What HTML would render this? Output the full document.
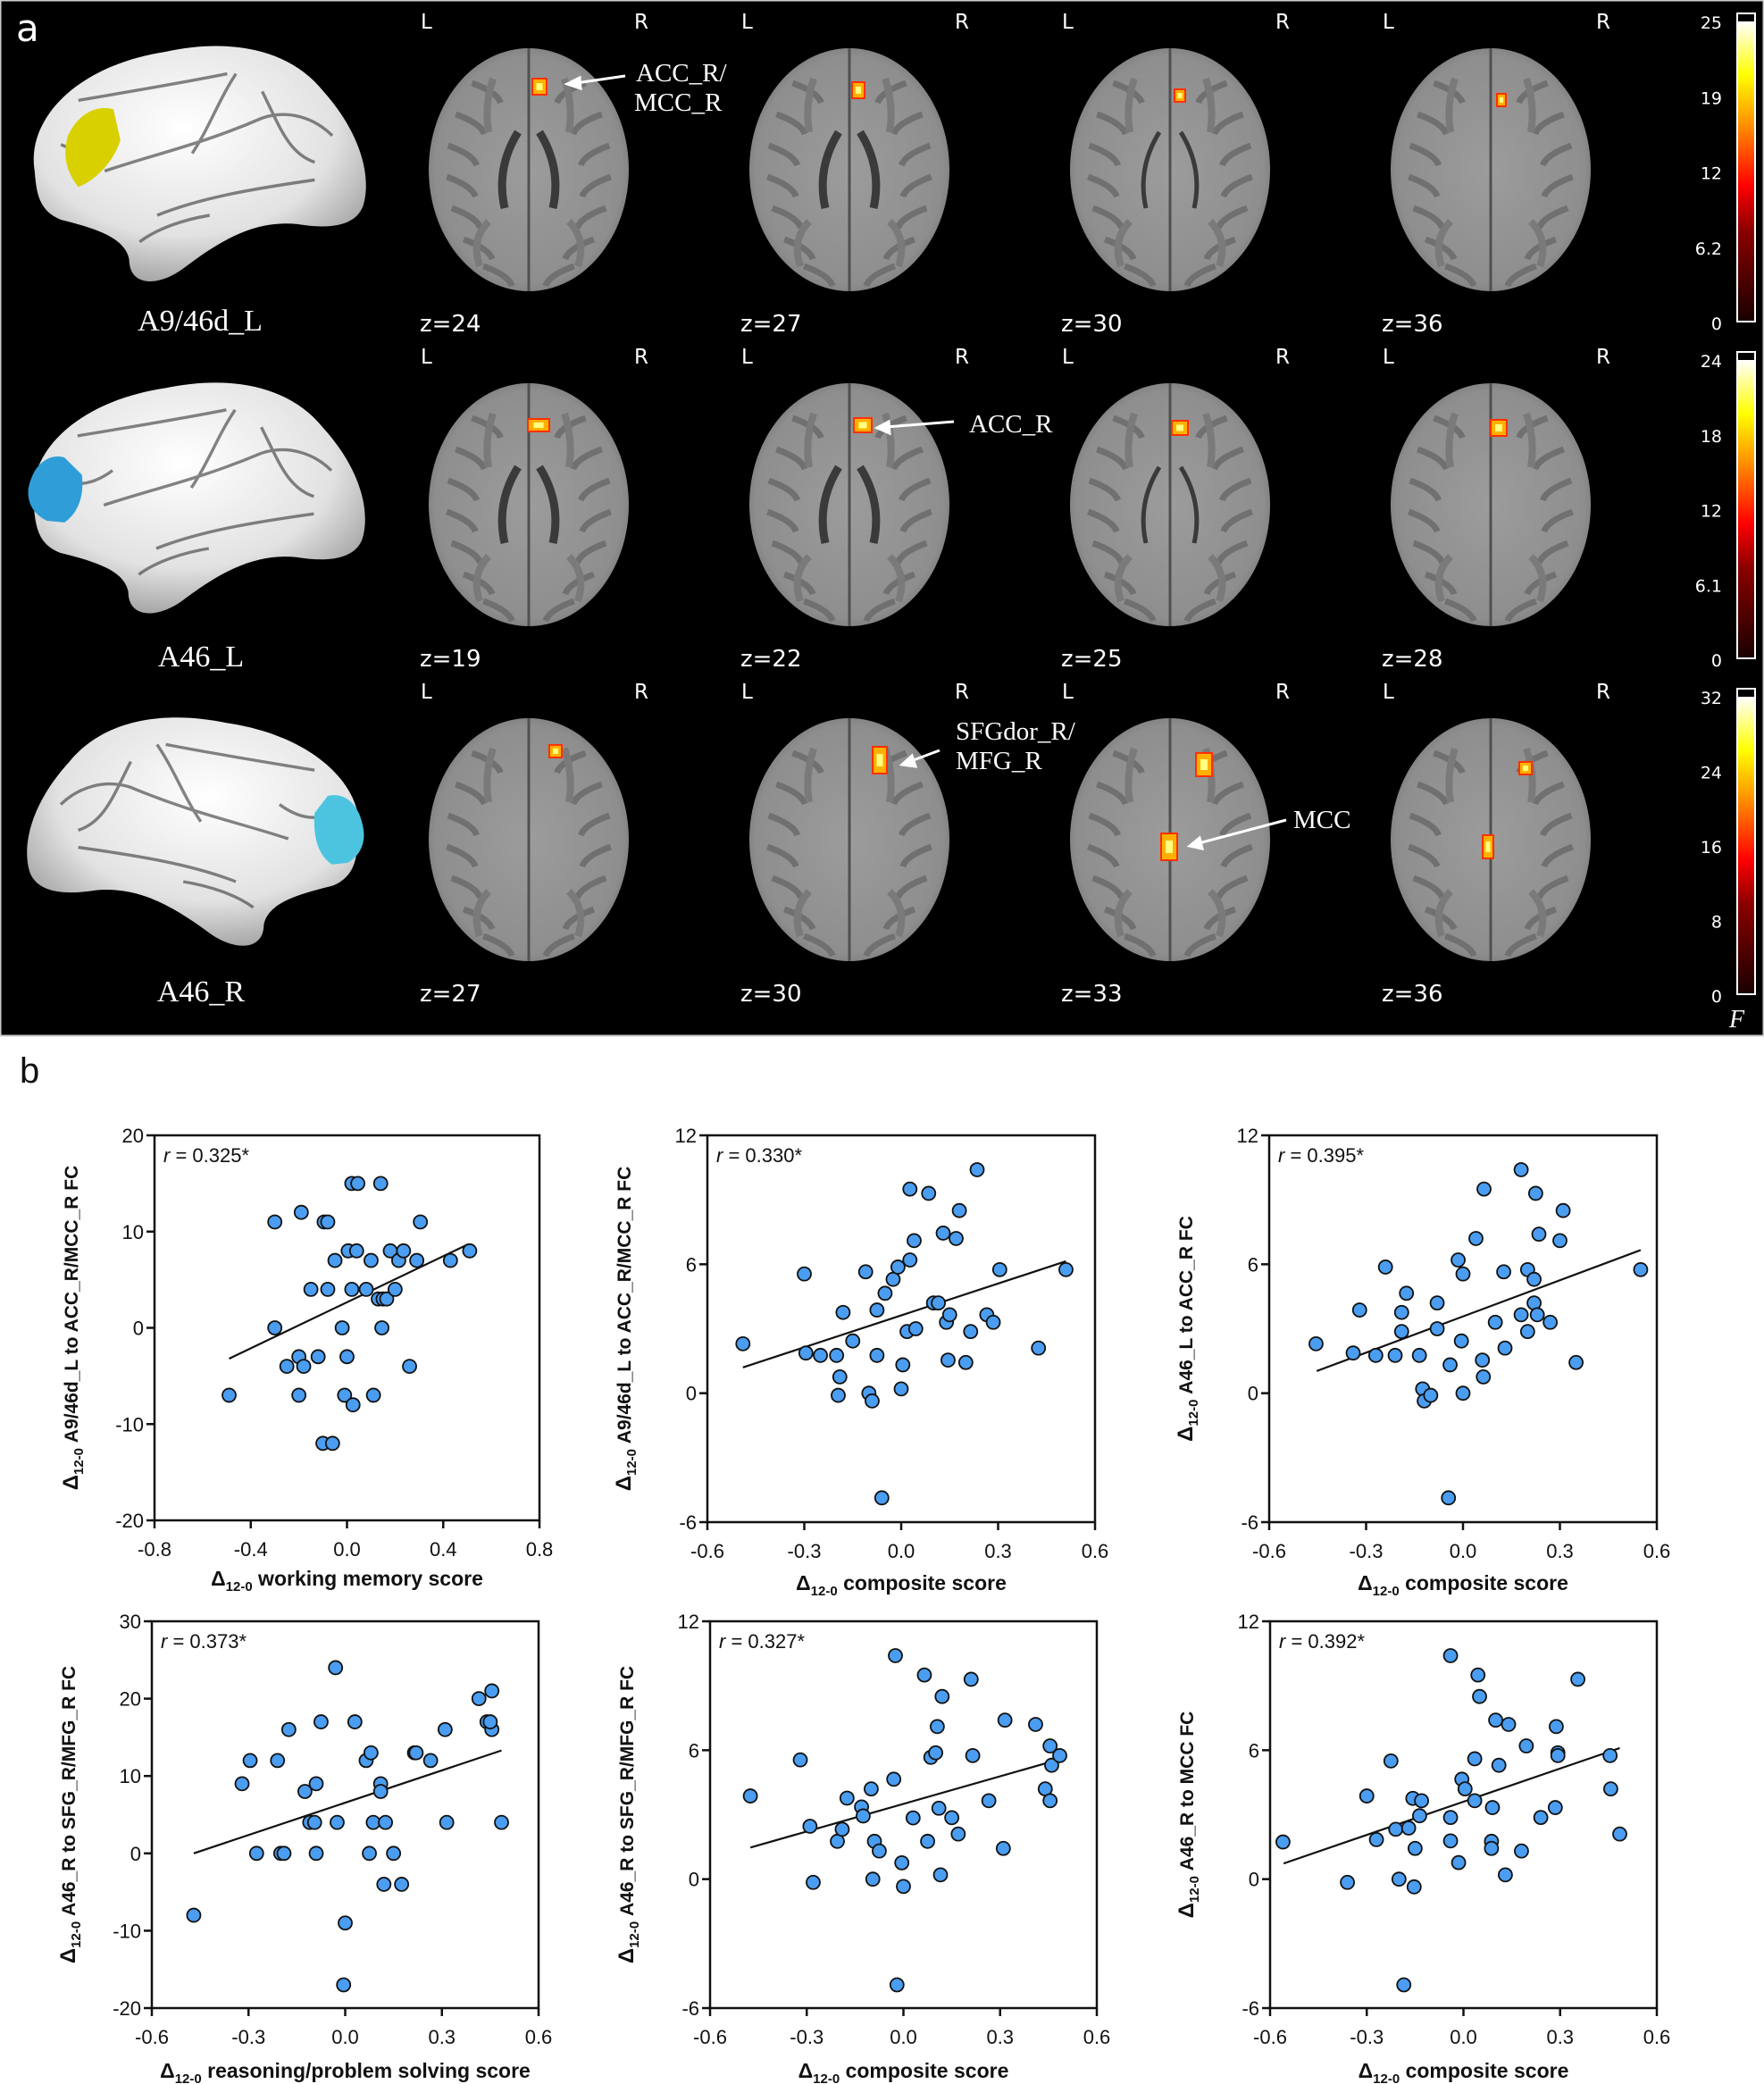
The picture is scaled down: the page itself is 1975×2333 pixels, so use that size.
<!DOCTYPE html>
<html><head><meta charset="utf-8">
<style>
html,body{margin:0;padding:0;background:#fff;}
svg{display:block;}
.w{fill:#fff;font-family:"DejaVu Sans","Liberation Sans",sans-serif;}
.s{fill:#fff;font-family:"Liberation Serif",serif;}
.t{font-family:"Liberation Sans",sans-serif;font-size:22px;fill:#111;}
.b{font-family:"Liberation Sans",sans-serif;font-size:21px;font-weight:bold;fill:#111;}
.bx{font-family:"Liberation Sans",sans-serif;font-size:23px;font-weight:bold;fill:#111;}
</style></head>
<body>
<svg id="root" width="1975" height="2333" viewBox="0 0 1975 2333" xmlns="http://www.w3.org/2000/svg">
<defs>
<radialGradient id="bg" cx="0.45" cy="0.35" r="0.7">
<stop offset="0" stop-color="#ffffff"/><stop offset="0.65" stop-color="#e2e2e2"/><stop offset="1" stop-color="#9a9a9a"/>
</radialGradient>
<linearGradient id="cb" x1="0" y1="1" x2="0" y2="0">
<stop offset="0" stop-color="#1a0000"/><stop offset="0.3" stop-color="#8a0000"/><stop offset="0.45" stop-color="#ff0000"/><stop offset="0.65" stop-color="#ff8c00"/><stop offset="0.82" stop-color="#ffff00"/><stop offset="1" stop-color="#ffffff"/>
</linearGradient>
<radialGradient id="ax" cx="0.5" cy="0.5" r="0.55">
<stop offset="0" stop-color="#9c9c9c"/><stop offset="0.85" stop-color="#8e8e8e"/><stop offset="1" stop-color="#767676"/>
</radialGradient>
<path id="lb" d="M 10 150 C 0 90, 60 30, 160 15 C 230 0, 300 10, 340 60 C 385 110, 395 160, 385 190 C 375 215, 340 215, 310 210 C 260 205, 220 230, 180 260 C 150 282, 118 280, 118 250 C 113 225, 80 215, 40 205 C 15 195, 12 175, 10 150 Z"/>
<g id="sulci" fill="none" stroke="#444" stroke-width="3.5" opacity="0.65">
<path d="M 60 70 C 120 60, 180 50, 230 40"/>
<path d="M 90 150 C 150 130, 200 120, 270 90 C 300 80, 330 90, 350 110"/>
<path d="M 190 130 C 210 100, 220 70, 240 40"/>
<path d="M 150 200 C 200 180, 260 170, 330 160"/>
<path d="M 130 230 C 150 215, 180 205, 210 200"/>
<path d="M 270 60 C 290 100, 300 130, 330 140"/>
<path d="M 40 120 C 60 130, 80 125, 100 110"/>
</g>
</defs>
<rect x="0" y="0" width="1975" height="1160" fill="#000"/>
<rect x="0.5" y="0.5" width="1974" height="1159" fill="none" stroke="#ccc" stroke-width="2"/>
<text x="18" y="46" class="w" font-size="42">a</text>

<g transform="translate(29,43) scale(0.98,0.99)"><use href="#lb" fill="url(#bg)"/><use href="#sulci"/>
<path d="M 48 110 C 60 85, 80 75, 100 80 L 108 115 C 100 140, 80 160, 60 168 C 45 150, 42 130, 48 110 Z" fill="#d8d000"/></g>
<g transform="translate(28,420) scale(0.98,0.97)"><use href="#lb" fill="url(#bg)"/><use href="#sulci"/>
<path d="M 4 130 C 10 100, 30 90, 45 95 L 65 115 C 68 140, 60 160, 45 170 L 25 168 C 8 160, 2 145, 4 130 Z" fill="#2f9ed8"/></g>
<g transform="translate(411,795) scale(-0.98,0.96)"><use href="#lb" fill="url(#bg)"/><use href="#sulci"/>
<path d="M 4 140 C 8 110, 25 95, 45 100 L 60 120 C 62 150, 55 170, 40 180 L 22 178 C 8 170, 2 155, 4 140 Z" fill="#4cc4e0"/></g>
<text x="224" y="370" class="s" font-size="34" text-anchor="middle">A9/46d_L</text>
<text x="225" y="746" class="s" font-size="34" text-anchor="middle">A46_L</text>
<text x="225" y="1121" class="s" font-size="34" text-anchor="middle">A46_R</text>

<g id="axials"></g>

<text x="712" y="91" class="s" font-size="29">ACC_R/</text>
<text x="710" y="124" class="s" font-size="29">MCC_R</text>
<text x="1085" y="484" class="s" font-size="29">ACC_R</text>
<text x="1070" y="828" class="s" font-size="29">SFGdor_R/</text>
<text x="1070" y="861" class="s" font-size="29">MFG_R</text>
<text x="1448" y="927" class="s" font-size="29">MCC</text>
<g stroke="#fff" stroke-width="3" fill="#fff">
<line x1="700" y1="85" x2="645" y2="93"/><polygon points="635,94 649,87 650,99"/>
<line x1="1068" y1="472" x2="992" y2="478"/><polygon points="982,479 995,472 996,485"/>
<line x1="1052" y1="840" x2="1020" y2="852"/><polygon points="1010,856 1021,846 1025,858"/>
<line x1="1440" y1="918" x2="1342" y2="944"/><polygon points="1332,947 1343,938 1346,950"/>
</g>

<g id="cbars"></g>
<text x="1936" y="1150" class="s" font-size="28" font-style="italic">F</text>

<text x="22" y="1212" font-family="Liberation Sans, sans-serif" font-size="40" fill="#111">b</text>
<g id="plots"></g>
</svg>
<script>
var NS="http://www.w3.org/2000/svg";
function el(p,t,a,txt){var e=document.createElementNS(NS,t);for(var k in a)e.setAttribute(k,a[k]);if(txt!==undefined)e.textContent=txt;p.appendChild(e);return e;}
var ax=document.getElementById('axials');
var cx=[592,951,1310,1669], rows=[{y:188,z:["z=24","z=27","z=30","z=36"]},{y:563,z:["z=19","z=22","z=25","z=28"]},{y:938,z:["z=27","z=30","z=33","z=36"]}];
rows.forEach(function(r,ri){
 cx.forEach(function(x,i){
  el(ax,'ellipse',{cx:x,cy:r.y+2,rx:112,ry:136,fill:'url(#ax)'});
  el(ax,'line',{x1:x,y1:r.y-134,x2:x,y2:r.y+138,stroke:'#505050','stroke-width':3});
  for(var k=-1;k<=1;k+=2){
   var d='';
   [-95,-60,-25,10,45,80,110].forEach(function(dy,j){var xx=x+k*(Math.sqrt(Math.max(0,1-Math.pow((dy)/136,2)))*100-8);d+='M '+xx+' '+(r.y+dy)+' q '+(-k*28)+' 10 '+(-k*32)+' 22 ';});
   el(ax,'path',{d:d,fill:'none',stroke:'#707070','stroke-width':7});
   el(ax,'path',{d:'M '+(x+k*40)+' '+(r.y-100)+' q '+(k*10)+' 30 '+(k*5)+' 60 M '+(x+k*45)+' '+(r.y+60)+' q '+(k*20)+' 20 '+(k*10)+' 50',fill:'none',stroke:'#7a7a7a','stroke-width':8});
   if(ri<2 && i<3){el(ax,'path',{d:'M '+(x+k*12)+' '+(r.y-40)+' q '+(k*25)+' 40 '+(k*15)+' 85',fill:'none',stroke:'#3a3a3a','stroke-width':(i==2?5:9)});}
  }
  el(ax,'text',{x:x-121,y:r.y-156,class:'w','font-size':23},'L');
  el(ax,'text',{x:x+118,y:r.y-156,class:'w','font-size':23},'R');
  el(ax,'text',{x:x-122,y:r.y+183,class:'w','font-size':26},r.z[i]);
 });
});
function blob(x,y,w,h){el(ax,'rect',{x:x-w/2-2,y:y-h/2-2,width:w+4,height:h+4,fill:'#ff3000'});el(ax,'rect',{x:x-w/2,y:y-h/2,width:w,height:h,fill:'#ffb000'});el(ax,'rect',{x:x-w/4,y:y-h/4,width:w/2,height:h/2,fill:'#ffff80'});}
blob(604,97,14,16);blob(961,101,12,16);blob(1321,107,10,12);blob(1681,112,8,12);
blob(603,476,22,12);blob(966,476,18,14);blob(1321,479,16,14);blob(1678,479,16,16);
blob(622,841,12,12);blob(985,851,14,28);blob(1348,856,16,24);blob(1309,948,16,28);blob(1708,860,12,12);blob(1666,948,10,24);
var cb=document.getElementById('cbars');
var cbs=[{t:15,b:360,l:["25","19","12","6.2","0"]},{t:394,b:737,l:["24","18","12","6.1","0"]},{t:771,b:1113,l:["32","24","16","8","0"]}];
cbs.forEach(function(c){
 el(cb,'rect',{x:1945,y:c.t,width:20,height:c.b-c.t,fill:'#000',stroke:'#fff','stroke-width':2});
 el(cb,'rect',{x:1946,y:c.t+9,width:18,height:c.b-c.t-10,fill:'url(#cb)'});
 for(var i=0;i<5;i++){var y=c.t+8+(c.b-c.t-8)*i/4;el(cb,'text',{x:1928,y:y+9,class:'w','font-size':19,'text-anchor':'end'},c.l[i]);}
});
var P=document.getElementById('plots');
function plot(o){
 var g=el(P,'g',{});
 var X=function(v){return o.x0+(v-o.xr[0])/(o.xr[1]-o.xr[0])*(o.x1-o.x0);};
 var Y=function(v){return o.y1-(v-o.yr[0])/(o.yr[1]-o.yr[0])*(o.y1-o.y0);};
 el(g,'rect',{x:o.x0,y:o.y0,width:o.x1-o.x0,height:o.y1-o.y0,fill:'none',stroke:'#111','stroke-width':2.5});
 o.xt.forEach(function(v){var x=X(v);el(g,'line',{x1:x,y1:o.y1,x2:x,y2:o.y1+9,stroke:'#111','stroke-width':2.5});
  el(g,'text',{x:x,y:o.y1+40,class:'t','text-anchor':'middle'},v.toFixed(1));});
 o.yt.forEach(function(v){var y=Y(v);el(g,'line',{x1:o.x0-9,y1:y,x2:o.x0,y2:y,stroke:'#111','stroke-width':2.5});
  el(g,'text',{x:o.x0-12,y:y+8,class:'t','text-anchor':'end'},String(v));});
 el(g,'line',{x1:X(o.ln[0]),y1:Y(o.ln[1]),x2:X(o.ln[2]),y2:Y(o.ln[3]),stroke:'#111','stroke-width':2.2});
 o.pts.forEach(function(p){el(g,'ellipse',{cx:X(p[0]),cy:Y(p[1]),rx:7.5,ry:7.5,fill:'#4a9df0',stroke:'#111','stroke-width':1.8});});
 var rt=el(g,'text',{x:o.x0+10,y:o.y0+30,class:'t','font-size':20});
 el(rt,'tspan',{'font-style':'italic'},'r');el(rt,'tspan',{},' = '+o.r);
 var yl=el(g,'text',{class:'b',transform:'translate('+(o.x0-86)+','+((o.y0+o.y1)/2)+') rotate(-90)','text-anchor':'middle'});
 el(yl,'tspan',{'font-size':24},'Δ');el(yl,'tspan',{'font-size':15,dy:6},'12-0');el(yl,'tspan',{dy:-6},' '+o.yl);
 var xl=el(g,'text',{class:'bx',x:(o.x0+o.x1)/2,y:o.xly,'text-anchor':'middle'});
 el(xl,'tspan',{},'Δ');el(xl,'tspan',{'font-size':15,dy:6},'12-0');el(xl,'tspan',{dy:-6},' '+o.xl);
}
var xs6=[-0.6,-0.3,0,0.3,0.6], ys12=[-6,0,6,12];
plot({x0:173,x1:604,y0:1271,y1:1702,xr:[-0.8,0.8],yr:[-20,20],xt:[-0.8,-0.4,0,0.4,0.8],yt:[-20,-10,0,10,20],r:'0.325*',
 yl:'A9/46d_L to ACC_R/MCC_R FC',xl:'working memory score',xly:1775,ln:[-0.49,-3.2,0.505,8.7],
 pts:[[-0.49,-7],[-0.30,11],[-0.30,0],[-0.19,12],[-0.20,-3],[-0.25,-4],[-0.18,-4],[-0.20,-7],[-0.15,4],[-0.12,-3],[-0.095,11],[-0.08,11],[-0.08,4],[-0.05,7],[-0.10,-12],[-0.06,-12],[-0.02,0],[0,-3],[-0.01,-7],[0.025,-8],[0.005,8],[0.04,8],[0.02,4],[0.02,15],[0.045,15],[0.14,15],[0.10,7],[0.08,4],[0.11,-7],[0.13,3],[0.15,3],[0.165,3],[0.145,0],[0.20,4],[0.18,8],[0.215,7],[0.235,8],[0.26,-4],[0.29,7],[0.305,11],[0.43,7],[0.51,8]]});
plot({x0:792,x1:1226,y0:1271,y1:1704,xr:[-0.6,0.6],yr:[-6,12],xt:xs6,yt:ys12,r:'0.330*',
 yl:'A9/46d_L to ACC_R/MCC_R FC',xl:'composite score',xly:1780,ln:[-0.49,1.2,0.51,6.14],
 pts:[[-0.49,2.3],[-0.30,5.55],[-0.295,1.87],[-0.25,1.76],[-0.20,1.76],[-0.19,0.76],[-0.195,-0.1],[-0.18,3.76],[-0.15,2.43],[-0.11,5.65],[-0.10,0],[-0.09,-0.36],[-0.075,3.87],[-0.075,1.76],[-0.06,-4.87],[-0.05,4.65],[-0.025,5.3],[-0.01,5.87],[0,0.2],[0.005,1.32],[0.018,2.87],[0.027,6.2],[0.027,9.5],[0.04,7.1],[0.045,3],[0.085,9.3],[0.10,4.2],[0.115,4.2],[0.13,7.45],[0.14,3.3],[0.15,3.65],[0.145,1.54],[0.17,7.2],[0.18,8.5],[0.20,1.43],[0.215,2.87],[0.235,10.4],[0.265,3.65],[0.285,3.3],[0.305,5.75],[0.425,2.1],[0.51,5.75]]});
plot({x0:1421,x1:1855,y0:1271,y1:1704,xr:[-0.6,0.6],yr:[-6,12],xt:xs6,yt:ys12,r:'0.395*',
 yl:'A46_L to ACC_R FC',xl:'composite score',xly:1780,ln:[-0.453,1.03,0.55,6.66],
 pts:[[-0.455,2.3],[-0.34,1.87],[-0.32,3.87],[-0.27,1.76],[-0.24,5.87],[-0.21,1.76],[-0.19,3.76],[-0.19,2.87],[-0.175,4.65],[-0.135,1.76],[-0.125,0.2],[-0.12,-0.36],[-0.10,-0.1],[-0.08,4.2],[-0.08,3],[-0.045,-4.87],[-0.04,1.32],[-0.015,6.2],[-0.005,2.43],[0,5.55],[0,0],[0.04,7.2],[0.06,1.54],[0.063,0.76],[0.065,9.5],[0.10,3.3],[0.126,5.65],[0.13,2.1],[0.18,10.4],[0.18,3.65],[0.20,5.75],[0.20,2.87],[0.22,5.3],[0.22,4.2],[0.225,9.3],[0.23,3.65],[0.235,7.4],[0.27,3.3],[0.30,7.1],[0.31,8.5],[0.35,1.43],[0.55,5.75]]});
plot({x0:170,x1:603,y0:1815,y1:2248,xr:[-0.6,0.6],yr:[-20,30],xt:xs6,yt:[-20,-10,0,10,20,30],r:'0.373*',
 yl:'A46_R to SFG_R/MFG_R FC',xl:'reasoning/problem solving score',xly:2326,ln:[-0.47,0,0.485,13.3],
 pts:[[-0.47,-8],[-0.32,9],[-0.295,12],[-0.275,0],[-0.21,12],[-0.2,0],[-0.19,0],[-0.175,16],[-0.125,8],[-0.11,4],[-0.095,4],[-0.09,0],[-0.09,9],[-0.075,17],[-0.03,24],[-0.025,4],[-0.005,-17],[0,-9],[0.03,17],[0.065,12],[0.075,0],[0.08,13],[0.087,4],[0.11,9],[0.11,8],[0.12,-4],[0.125,4],[0.15,0],[0.175,-4],[0.215,13],[0.22,13],[0.265,12],[0.31,16],[0.315,4],[0.415,20],[0.44,17],[0.455,16],[0.455,21],[0.485,4],[0.45,17]]});
plot({x0:795,x1:1228,y0:1815,y1:2248,xr:[-0.6,0.6],yr:[-6,12],xt:xs6,yt:ys12,r:'0.327*',
 yl:'A46_R to SFG_R/MFG_R FC',xl:'composite score',xly:2326,ln:[-0.475,1.47,0.453,5.44],
 pts:[[-0.475,3.87],[-0.32,5.55],[-0.29,2.46],[-0.28,-0.15],[-0.205,1.76],[-0.19,2.32],[-0.175,3.77],[-0.13,3.36],[-0.125,2.94],[-0.10,4.2],[-0.095,0],[-0.09,1.76],[-0.075,1.31],[-0.03,4.65],[-0.025,10.4],[-0.02,-4.92],[-0.005,0.76],[0,-0.34],[0.03,2.85],[0.065,9.5],[0.075,1.76],[0.085,5.67],[0.10,5.88],[0.105,7.1],[0.11,3.3],[0.115,0.2],[0.12,8.5],[0.15,2.86],[0.17,2.1],[0.21,9.3],[0.215,5.75],[0.265,3.65],[0.31,1.43],[0.315,7.4],[0.41,7.2],[0.44,4.2],[0.455,3.65],[0.455,6.2],[0.46,5.3],[0.485,5.75]]});
plot({x0:1422,x1:1855,y0:1815,y1:2248,xr:[-0.6,0.6],yr:[-6,12],xt:xs6,yt:ys12,r:'0.392*',
 yl:'A46_R to MCC FC',xl:'composite score',xly:2326,ln:[-0.558,0.73,0.485,6.1],
 pts:[[-0.56,1.73],[-0.36,-0.15],[-0.30,3.87],[-0.27,1.84],[-0.225,5.5],[-0.21,2.32],[-0.20,0],[-0.185,-4.92],[-0.17,2.38],[-0.157,3.76],[-0.15,1.43],[-0.153,-0.36],[-0.136,2.95],[-0.13,3.65],[-0.04,10.4],[-0.04,2.87],[-0.04,1.78],[-0.015,0.77],[-0.005,4.65],[0.005,4.2],[0.035,5.6],[0.035,3.65],[0.045,9.5],[0.05,8.5],[0.087,1.76],[0.087,1.43],[0.09,3.33],[0.10,7.4],[0.11,5.3],[0.13,0.2],[0.14,7.2],[0.18,1.31],[0.195,6.2],[0.24,2.87],[0.285,3.33],[0.288,7.1],[0.293,5.88],[0.293,5.75],[0.355,9.3],[0.455,5.75],[0.457,4.2],[0.485,2.1]]});
</script>
</body></html>
